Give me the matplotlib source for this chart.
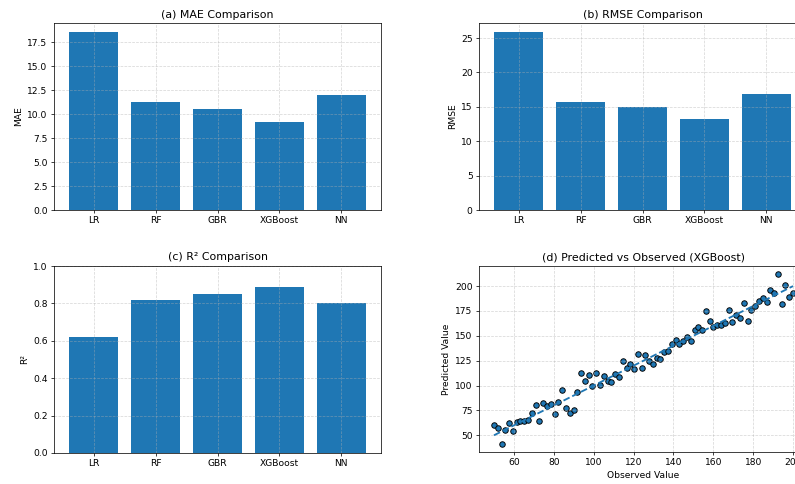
import matplotlib
matplotlib.use("Agg")
import matplotlib.pyplot as plt

# Model metrics
models = ["LR", "RF", "GBR", "XGBoost", "NN"]
mae = [18.6, 11.3, 10.5, 9.2, 12.05]
rmse = [25.9, 15.7, 15.0, 13.3, 16.8]
r2 = [0.62, 0.82, 0.85, 0.89, 0.80]

# XGBoost test set: observed vs predicted
observed = [50.0, 51.9, 53.8, 55.7, 57.6, 59.5, 61.4, 63.3, 65.2, 67.1,
            69.0, 70.9, 72.8, 74.7, 76.6, 78.5, 80.4, 82.3, 84.2, 86.1,
            88.0, 89.9, 91.8, 93.7, 95.6, 97.5, 99.4, 101.3, 103.2, 105.1,
            107.0, 108.9, 110.8, 112.7, 114.6, 116.5, 118.4, 120.3, 122.2, 124.1,
            125.9, 127.8, 129.7, 131.6, 133.5, 135.4, 137.3, 139.2, 141.1, 143.0,
            144.9, 146.8, 148.7, 150.6, 152.5, 154.4, 156.3, 158.2, 160.1, 162.0,
            163.9, 165.8, 167.7, 169.6, 171.5, 173.4, 175.3, 177.2, 179.1, 181.0,
            182.9, 184.8, 186.7, 188.6, 190.5, 192.4, 194.3, 196.2, 198.1, 200.0]
predicted = [60.3, 57.0, 41.7, 55.3, 62.3, 54.0, 63.3, 64.0, 64.3, 65.7,
             72.0, 80.3, 64.7, 82.3, 79.3, 81.3, 71.3, 83.0, 95.7, 77.7,
             72.0, 75.3, 93.3, 112.7, 104.7, 111.0, 99.7, 112.3, 101.0, 109.3,
             105.0, 104.0, 111.7, 109.0, 125.0, 117.7, 121.7, 117.0, 131.7, 118.0,
             131.0, 124.7, 122.0, 127.7, 127.0, 133.7, 135.0, 141.7, 145.7, 141.7,
             144.7, 148.7, 144.7, 156.0, 159.0, 156.0, 174.7, 165.3, 158.7, 161.3,
             161.3, 162.7, 176.3, 163.7, 171.0, 168.3, 183.0, 165.3, 175.7, 179.7,
             185.0, 187.7, 184.3, 196.3, 192.7, 211.7, 181.7, 200.7, 189.3, 192.7]

W, H, DPI = 795, 484, 66
fig = plt.figure(figsize=(W / DPI, H / DPI), dpi=DPI)


def box(left, top, right, bottom):
    return [left / W, 1 - bottom / H, (right - left) / W, (bottom - top) / H]


ax_a = fig.add_axes(box(54, 23, 381, 210))
ax_b = fig.add_axes(box(479, 23, 806, 210))
ax_c = fig.add_axes(box(54, 266, 381, 453))
ax_d = fig.add_axes(box(479, 266, 808, 452))

ax_a.bar(models, mae)
ax_a.set_title("(a) MAE Comparison")
ax_a.set_ylabel("MAE")

ax_b.bar(models, rmse)
ax_b.set_title("(b) RMSE Comparison")
ax_b.set_ylabel("RMSE")

ax_c.bar(models, r2)
ax_c.set_title("(c) R² Comparison")
ax_c.set_ylabel("R²")
ax_c.set_ylim(0, 1)

ax_d.scatter(observed, predicted, edgecolor="k")
lo, hi = min(observed), max(observed)
ax_d.plot([lo, hi], [lo, hi], "--", lw=2)
ax_d.set_title("(d) Predicted vs Observed (XGBoost)")
ax_d.set_xlabel("Observed Value")
ax_d.set_ylabel("Predicted Value")

for ax in (ax_a, ax_b, ax_c, ax_d):
    ax.grid(True, linestyle="--", alpha=0.5)

fig.savefig("out.png", dpi=DPI)
